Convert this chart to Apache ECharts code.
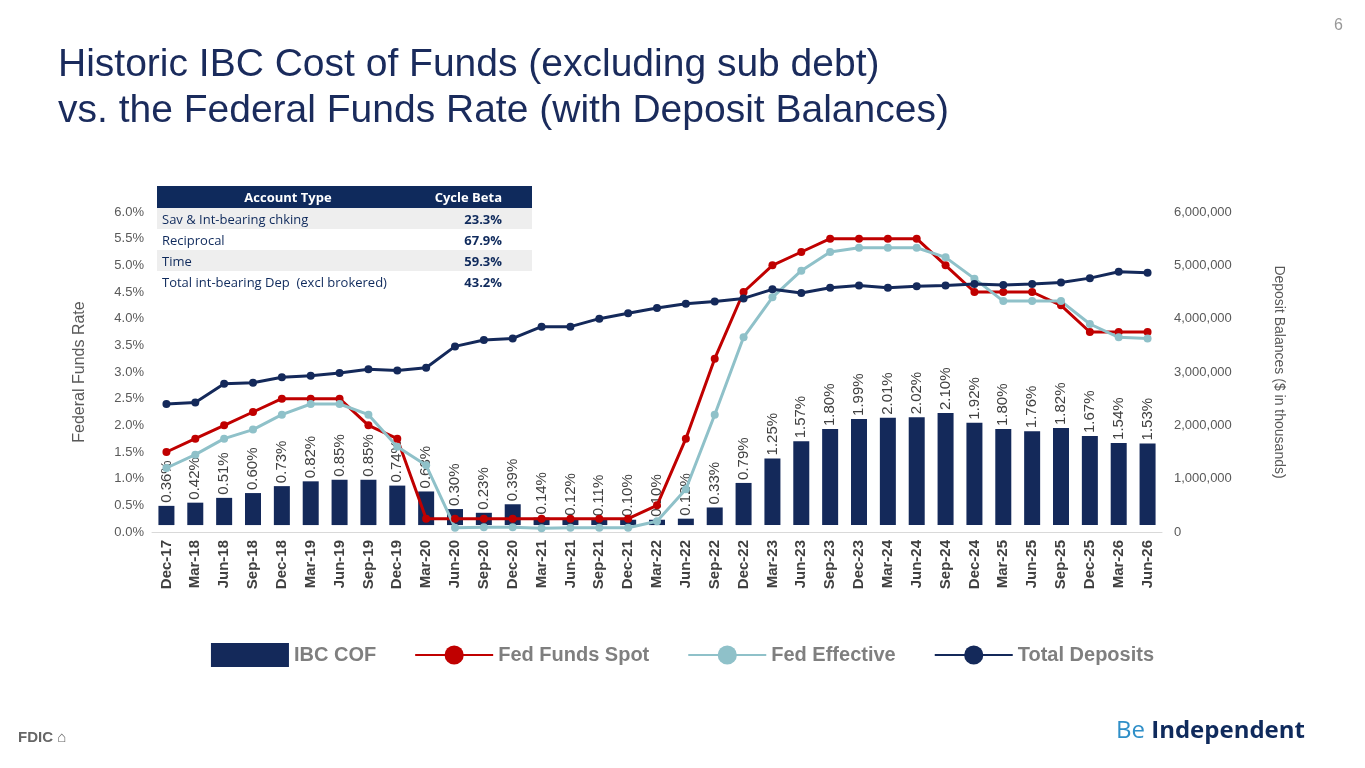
<!DOCTYPE html>
<html>
<head>
<meta charset="utf-8">
<script src="https://cdn.jsdelivr.net/npm/echarts@6/dist/echarts.min.js"></script>
<style>
  body{margin:0;background:#fff;font-family:Arial,"Liberation Sans",sans-serif;}
  #wrap{position:relative;width:1365px;height:768px;overflow:hidden;}
  #chart{position:absolute;left:0;top:0;width:1365px;height:768px;}
  h1{position:absolute;left:58px;top:40px;margin:0;font-weight:normal;font-size:39px;line-height:46px;color:#1a2b5c;}
  .pg{position:absolute;right:22px;top:16px;color:#999;font-size:16px;}
  table.beta{position:absolute;left:157px;top:186px;width:375px;border-collapse:collapse;font-family:"Open Sans",Lato,sans-serif;font-size:13px;}
  table.beta th{background:#0f2a5c;color:#fff;font-weight:bold;height:22px;padding:0 4px;}
  table.beta td{height:21px;padding:0 5px;color:#0f2a5c;}
  table.beta tr:nth-child(even) td{background:#eeeeee;}
  table.beta td:last-child{font-weight:bold;text-align:right;padding-right:30px;}
  .logo{position:absolute;right:60px;top:712px;font-size:24px;font-weight:bold;color:#0f2a5c;font-family:"Open Sans",sans-serif;}
  .logo span{color:#2f8fc8;font-weight:normal;}
  .fdic{position:absolute;left:18px;top:728px;font-size:15px;font-weight:bold;color:#666;}
</style>
</head>
<body>
<div id="wrap">
<div id="chart"></div>
<h1>Historic IBC Cost of Funds (excluding sub debt)<br>vs. the Federal Funds Rate (with Deposit Balances)</h1>
<div class="pg">6</div>
<table class="beta">
  <tr><th style="text-align:center">Account Type</th><th style="text-align:right;padding-right:30px">Cycle Beta</th></tr>
  <tr><td>Sav &amp; Int-bearing chking</td><td>23.3%</td></tr>
  <tr><td>Reciprocal</td><td>67.9%</td></tr>
  <tr><td>Time</td><td>59.3%</td></tr>
  <tr><td>Total int-bearing Dep&nbsp; (excl brokered)</td><td>43.2%</td></tr>
</table>
<div class="fdic">FDIC ⌂</div>
<div class="logo"><span>Be</span> Independent</div>
</div>
<script>
var quarters = ['Dec-17','Mar-18','Jun-18','Sep-18','Dec-18','Mar-19','Jun-19','Sep-19','Dec-19','Mar-20','Jun-20','Sep-20','Dec-20','Mar-21','Jun-21','Sep-21','Dec-21','Mar-22','Jun-22','Sep-22','Dec-22','Mar-23','Jun-23','Sep-23','Dec-23','Mar-24','Jun-24','Sep-24','Dec-24','Mar-25','Jun-25','Sep-25','Dec-25','Mar-26','Jun-26'];
var ibcCof = [0.36,0.42,0.51,0.60,0.73,0.82,0.85,0.85,0.74,0.63,0.30,0.23,0.39,0.14,0.12,0.11,0.10,0.10,0.12,0.33,0.79,1.25,1.57,1.80,1.99,2.01,2.02,2.10,1.92,1.80,1.76,1.82,1.67,1.54,1.53];
var fedSpot = [1.5,1.75,2.0,2.25,2.5,2.5,2.5,2.0,1.75,0.25,0.25,0.25,0.25,0.25,0.25,0.25,0.25,0.5,1.75,3.25,4.5,5.0,5.25,5.5,5.5,5.5,5.5,5.0,4.5,4.5,4.5,4.25,3.75,3.75,3.75];
var fedEffective = [1.2,1.45,1.75,1.92,2.2,2.4,2.4,2.2,1.6,1.25,0.08,0.09,0.09,0.07,0.08,0.08,0.08,0.2,0.8,2.2,3.65,4.4,4.9,5.25,5.33,5.33,5.33,5.15,4.75,4.33,4.33,4.33,3.9,3.65,3.63];
var totalDeposits = [2400000,2430000,2780000,2800000,2900000,2930000,2980000,3050000,3030000,3080000,3480000,3600000,3630000,3850000,3850000,4000000,4100000,4200000,4280000,4320000,4380000,4550000,4480000,4580000,4620000,4580000,4610000,4620000,4650000,4630000,4650000,4680000,4760000,4880000,4860000];

var chart = echarts.init(document.getElementById('chart'));
var axisText = {color:'#595959', fontSize:13, fontFamily:'Arial'};
chart.setOption({
  animation:false,
  grid:{left:152, right:203, top:212, bottom:236},
  legend:{
    bottom:96, left:'center', itemGap:38, itemWidth:78, itemHeight:24,
    textStyle:{color:'#7f7f7f', fontSize:20, fontWeight:'bold', fontFamily:'Arial'},
    data:[{name:'IBC COF', icon:'rect'},'Fed Funds Spot','Fed Effective','Total Deposits']
  },
  xAxis:{
    type:'category', data:quarters,
    axisLine:{lineStyle:{color:'#d9d9d9'}}, axisTick:{show:false},
    axisLabel:{rotate:90, interval:0, color:'#404040', fontSize:15, fontWeight:'bold', fontFamily:'Arial'}
  },
  yAxis:[
    {type:'value', min:0, max:6, interval:0.5, name:'Federal Funds Rate', nameLocation:'middle', nameGap:64,
     nameTextStyle:{color:'#595959', fontSize:16},
     splitLine:{show:false}, axisLabel:Object.assign({formatter:function(v){return v.toFixed(1)+'%';}}, axisText)},
    {type:'value', min:0, max:6000000, interval:1000000, name:'Deposit Balances ($ in thousands)', nameLocation:'middle', nameGap:110, nameRotate:-90,
     nameTextStyle:{color:'#595959', fontSize:14},
     splitLine:{show:false}, axisLabel:Object.assign({formatter:function(v){return v.toLocaleString('en-US');}, margin:12}, axisText)},
    {type:'value', min:-0.13, max:5.87, show:false}
  ],
  series:[
    {name:'IBC COF', type:'bar', yAxisIndex:2, data:ibcCof, barWidth:16, itemStyle:{color:'#14295a'},
     label:{show:true, position:'top', rotate:90, align:'left', verticalAlign:'middle',
       distance:3, color:'#404040', fontSize:15, fontFamily:'Arial',
       formatter:function(p){return p.value.toFixed(2)+'%';}}},
    {name:'Fed Funds Spot', type:'line', data:fedSpot, color:'#c00000', symbol:'circle', symbolSize:8,
     lineStyle:{width:3}},
    {name:'Fed Effective', type:'line', data:fedEffective, color:'#8fc1c9', symbol:'circle', symbolSize:8,
     lineStyle:{width:3}},
    {name:'Total Deposits', type:'line', yAxisIndex:1, data:totalDeposits, color:'#14295a', symbol:'circle', symbolSize:8,
     lineStyle:{width:3}}
  ]
});
</script>
</body>
</html>
